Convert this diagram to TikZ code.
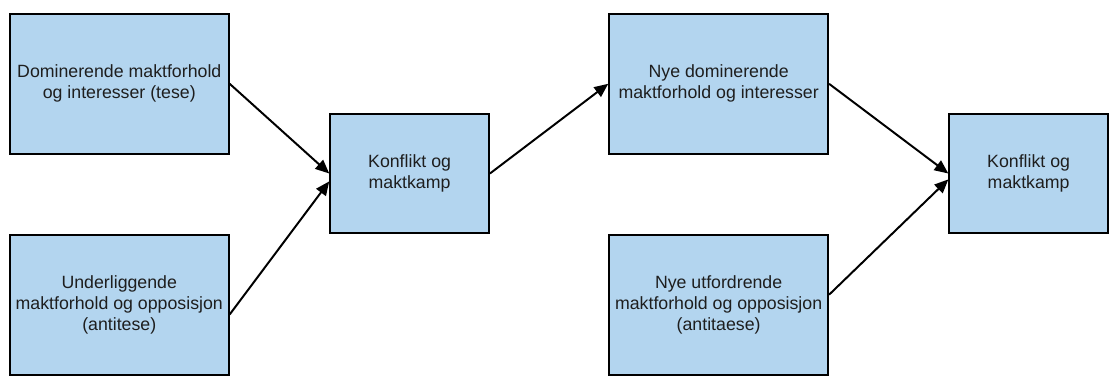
\documentclass[tikz,border=0pt]{standalone}
\usepackage{fontspec}
\setmainfont{Liberation Sans}
\usetikzlibrary{positioning,arrows.meta}

\definecolor{boxblue}{HTML}{B3D5EF}
\definecolor{boxtext}{HTML}{1E1E1E}

\tikzset{
  box/.style={draw=black, fill=boxblue, line width=1pt, inner sep=0pt,
    align=center, text=boxtext, font=\fontsize{9}{10.75}\selectfont},
  wide/.style={box, minimum width=111pt, minimum height=71pt},
  narrow/.style={box, minimum width=80.5pt, minimum height=60pt},
  link/.style={line width=1pt, -{Triangle[length=7pt,width=6pt]}}
}

\begin{document}
\begin{tikzpicture}
  \node[wide] (tese) at (60.5pt,-42.5pt) {Dominerende maktforhold\\og interesser (tese)};
  \node[wide, below=40pt of tese] (anti) {Underliggende\\maktforhold og opposisjon\\(antitese)};
  \node[narrow, right=50.5pt of tese.east, yshift=-45.5pt] (kamp) {Konflikt og\\maktkamp};
  \node[wide, right=192pt of tese] (nytese) {Nye dominerende\\maktforhold og interesser};
  \node[wide, below=40pt of nytese] (nyanti) {Nye utfordrende\\maktforhold og opposisjon\\(antitaese)};
  \node[narrow, right=232.5pt of kamp] (nykamp) {Konflikt og\\maktkamp};

  \useasboundingbox (0,0) rectangle (554.5pt,-186.5pt);

  \draw[link] (tese.east) -- (kamp.west);
  \draw[link] ([yshift=-5pt]anti.east) -- ([yshift=-4pt]kamp.west);
  \draw[link] (kamp.east) -- (nytese.west);
  \draw[link] (nytese.east) -- (nykamp.west);
  \draw[link] ([yshift=5pt]nyanti.east) -- ([yshift=-3pt]nykamp.west);
\end{tikzpicture}
\end{document}
